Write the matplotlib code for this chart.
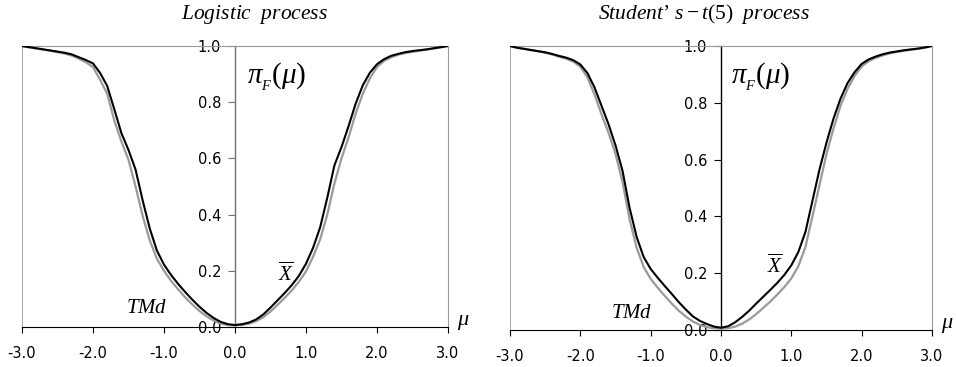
import matplotlib
matplotlib.use('Agg')
import matplotlib.pyplot as plt
import numpy as np

plt.rcParams['mathtext.fontset'] = 'custom'
plt.rcParams['mathtext.rm'] = 'Liberation Serif'
plt.rcParams['mathtext.it'] = 'Liberation Serif:italic'
plt.rcParams['mathtext.bf'] = 'Liberation Serif:bold'

# shift parameter mu, step 0.1 from -3 to 3
mu = np.round(np.arange(-30, 31) / 10.0, 1)

# logistic process: power of X-bar chart (black) and TMd chart (grey)
logis_xbar = [1.000, 0.996, 0.992, 0.988, 0.984, 0.980, 0.976, 0.970, 0.960, 0.950,
              0.938, 0.904, 0.858, 0.775, 0.690, 0.630, 0.560, 0.450, 0.350, 0.272,
              0.222, 0.185, 0.153, 0.124, 0.097, 0.072, 0.050, 0.032, 0.018, 0.010,
              0.007,
              0.010, 0.016, 0.027, 0.045, 0.069, 0.095, 0.121, 0.149, 0.182, 0.225,
              0.282, 0.355, 0.460, 0.575, 0.640, 0.715, 0.795, 0.860, 0.905, 0.935,
              0.953, 0.965, 0.972, 0.978, 0.982, 0.985, 0.988, 0.992, 0.996, 1.000]
logis_tmd = [1.000, 0.995, 0.991, 0.987, 0.983, 0.978, 0.973, 0.966, 0.955, 0.942,
             0.925, 0.880, 0.830, 0.735, 0.660, 0.595, 0.500, 0.395, 0.308, 0.243,
             0.200, 0.164, 0.134, 0.105, 0.080, 0.057, 0.038, 0.023, 0.012, 0.007,
             0.006,
             0.007, 0.012, 0.021, 0.035, 0.055, 0.079, 0.104, 0.130, 0.161, 0.198,
             0.250, 0.312, 0.400, 0.510, 0.600, 0.675, 0.760, 0.830, 0.885, 0.925,
             0.947, 0.960, 0.969, 0.975, 0.979, 0.983, 0.987, 0.991, 0.995, 1.000]

# Student's t(5) process
t5_xbar = [1.000, 0.994, 0.990, 0.986, 0.982, 0.978, 0.972, 0.965, 0.959, 0.950,
           0.935, 0.905, 0.855, 0.790, 0.725, 0.650, 0.560, 0.430, 0.328, 0.257,
           0.215, 0.184, 0.155, 0.127, 0.098, 0.072, 0.048, 0.032, 0.021, 0.012,
           0.008,
           0.013, 0.027, 0.046, 0.068, 0.093, 0.117, 0.141, 0.166, 0.194, 0.228,
           0.275, 0.345, 0.455, 0.565, 0.660, 0.745, 0.815, 0.870, 0.908, 0.937,
           0.953, 0.963, 0.971, 0.977, 0.981, 0.985, 0.988, 0.991, 0.995, 1.000]
t5_tmd = [1.000, 0.994, 0.990, 0.985, 0.981, 0.976, 0.970, 0.962, 0.955, 0.945,
          0.927, 0.890, 0.830, 0.760, 0.695, 0.620, 0.520, 0.390, 0.290, 0.222,
          0.180, 0.149, 0.120, 0.093, 0.068, 0.047, 0.030, 0.018, 0.010, 0.006,
          0.005,
          0.006, 0.012, 0.022, 0.037, 0.056, 0.078, 0.100, 0.125, 0.151, 0.182,
          0.225, 0.292, 0.400, 0.510, 0.620, 0.710, 0.790, 0.850, 0.895, 0.928,
          0.947, 0.958, 0.967, 0.974, 0.979, 0.983, 0.987, 0.990, 0.994, 1.000]

xticks = [-3.0, -2.0, -1.0, 0.0, 1.0, 2.0, 3.0]
yticks = [0.0, 0.2, 0.4, 0.6, 0.8, 1.0]

fig = plt.figure(figsize=(9.56, 3.67), dpi=100)

panels = [
    dict(rect=[0.023, 0.109, 0.4456, 0.7657], xbar=logis_xbar, tmd=logis_tmd,
         title='$\\mathit{Logistic\\ \\ process}$', tx=254, yaxis_col='#707070',
         pi=(277, 77), xb=(286, 273), tm=(147, 307), mul=(463, 322)),
    dict(rect=[0.5335, 0.1008, 0.4414, 0.7738], xbar=t5_xbar, tmd=t5_tmd,
         title='$\\mathit{Student\u2019\\ s} - t(5)\\ \\ \\mathit{process}$', tx=704, yaxis_col='black',
         pi=(761, 77), xb=(775, 265), tm=(632, 312), mul=(947, 325)),
]

W, H = 956.0, 367.0
for p in panels:
    ax = fig.add_axes(p['rect'])
    ax.plot(mu, p['tmd'], color='#9a9a9a', lw=1.6, zorder=3, solid_joinstyle='round')
    ax.plot(mu, p['xbar'], color='black', lw=1.5, zorder=4, solid_joinstyle='round')
    ax.set_xlim(-3, 3)
    ax.set_ylim(0, 1)
    ax.spines['left'].set_position(('data', 0))
    ax.spines['left'].set_color(p['yaxis_col'])
    ax.spines['left'].set_linewidth(1.0)
    ax.spines['top'].set_color('#999999')
    ax.spines['right'].set_color('#999999')
    ax.spines['bottom'].set_color('black')
    ax.axvline(-3, color='#999999', lw=1.2, zorder=2)
    ax.set_xticks(xticks)
    ax.set_xticklabels(['%.1f' % v for v in xticks])
    ax.set_yticks(yticks)
    ax.set_yticklabels(['%.1f' % v for v in yticks])
    ax.tick_params(axis='x', direction='out', length=4, pad=10, labelsize=10.5, color='black')
    ax.tick_params(axis='y', direction='out', length=5, pad=5, labelsize=10.5, color=p['yaxis_col'])
    for lab in ax.get_yticklabels():
        lab.set_zorder(1)

    fig.text(p['tx'] / W, 1 - 14 / H, p['title'], ha='center', va='center', fontsize=15.5)
    fig.text(p['pi'][0] / W, 1 - p['pi'][1] / H, r'$\pi_{_F}(\mu)$', ha='center', va='center', fontsize=21)
    fig.text(p['xb'][0] / W, 1 - p['xb'][1] / H, r'$\overline{X}$', ha='center', va='center', fontsize=15)
    fig.text(p['tm'][0] / W, 1 - p['tm'][1] / H, r'$TMd$', ha='center', va='center', fontsize=15)
    fig.text(p['mul'][0] / W, 1 - p['mul'][1] / H, r'$\mu$', ha='center', va='center', fontsize=16)

fig.savefig('out.png', dpi=100)
